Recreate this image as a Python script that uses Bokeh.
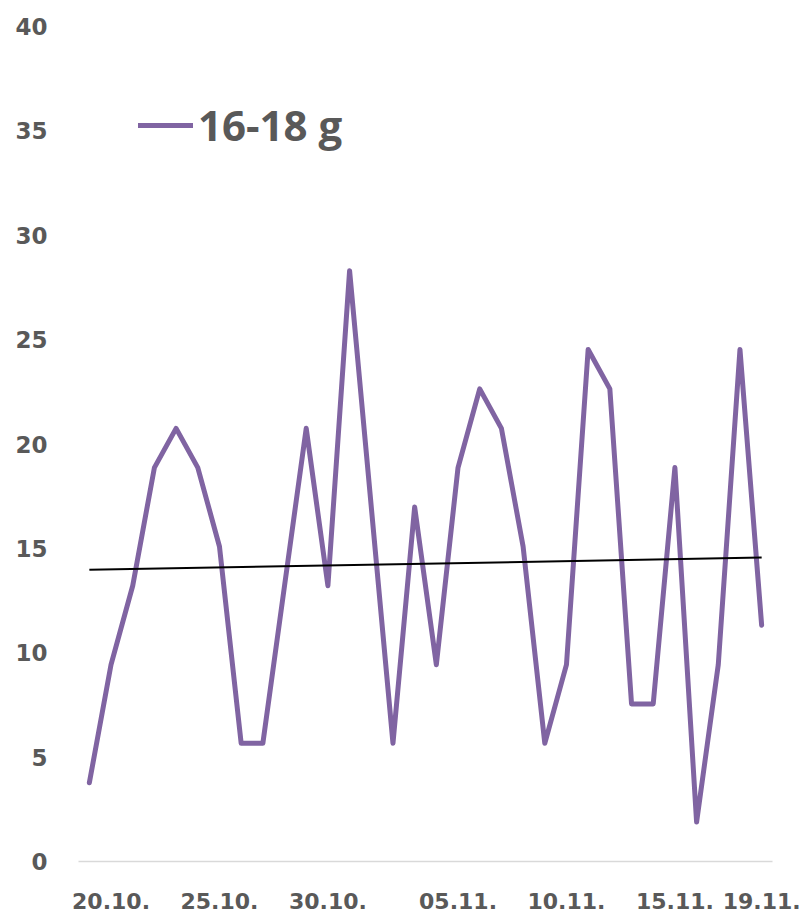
import numpy as np
from bokeh.plotting import figure
from bokeh.models import FixedTicker, Legend, LegendItem, Range1d, ColumnDataSource
from bokeh.embed import file_html
from bokeh.resources import INLINE

# --- data ---
dates = ["19.10.", "20.10.", "21.10.", "22.10.", "23.10.", "24.10.", "25.10.", "26.10.",
         "27.10.", "28.10.", "29.10.", "30.10.", "31.10.", "01.11.", "02.11.", "03.11.",
         "04.11.", "05.11.", "06.11.", "07.11.", "08.11.", "09.11.", "10.11.", "11.11.",
         "12.11.", "13.11.", "14.11.", "15.11.", "16.11.", "17.11.", "18.11.", "19.11."]
values = [3.77, 9.43, 13.21, 18.87, 20.75, 18.87, 15.09, 5.66,
          5.66, 13.21, 20.75, 13.21, 28.30, 16.98, 5.66, 16.98,
          9.43, 18.87, 22.64, 20.75, 15.09, 5.66, 9.43, 24.53,
          22.64, 7.55, 7.55, 18.87, 1.89, 9.43, 24.53, 11.32]
tick_labels = ["20.10.", "25.10.", "30.10.", "05.11.", "10.11.", "15.11.", "19.11."]
y_ticks = [0, 5, 10, 15, 20, 25, 30, 35, 40]
series_name = "16-18 g"

idx = list(range(len(dates)))
src = ColumnDataSource(dict(x=idx, y=values, d=dates))

p = figure(width=806, height=917, output_backend="svg", toolbar_location=None,
           x_range=Range1d(-0.5, len(dates) - 0.5), y_range=Range1d(0, 40),
           min_border_left=78, min_border_right=34, min_border_top=26, min_border_bottom=56)
p.outline_line_color = None
p.grid.visible = False

purple = "#8064A2"
grey = "#595959"

r = p.line("x", "y", source=src, line_color=purple, line_width=5, line_join="round", line_cap="round")

# linear trend line
coef = np.polyfit(idx, values, 1)
tx = [idx[0], idx[-1]]
ty = [coef[1] + coef[0] * t for t in tx]
p.line(tx, ty, line_color="black", line_width=2)

# x axis
tick_pos = [dates.index(t) for t in tick_labels]
p.xaxis.ticker = FixedTicker(ticks=tick_pos)
p.xaxis.major_label_overrides = {i: dates[i] for i in tick_pos}
p.xaxis.axis_line_color = "#D9D9D9"
p.xaxis.axis_line_width = 1.5
p.xaxis.major_tick_line_color = None
p.xaxis.minor_tick_line_color = None
p.xaxis.major_label_text_font = "DejaVu Sans"
p.xaxis.major_label_text_font_style = "bold"
p.xaxis.major_label_text_font_size = "22px"
p.xaxis.major_label_text_color = grey
p.xaxis.major_label_standoff = 25

# y axis
p.yaxis.ticker = FixedTicker(ticks=y_ticks)
p.yaxis.axis_line_color = None
p.yaxis.major_tick_line_color = None
p.yaxis.minor_tick_line_color = None
p.yaxis.major_label_text_font = "DejaVu Sans"
p.yaxis.major_label_text_font_style = "bold"
p.yaxis.major_label_text_font_size = "23px"
p.yaxis.major_label_text_color = grey
p.yaxis.major_label_standoff = 25

legend = Legend(items=[LegendItem(label=series_name, renderers=[r])],
                location=(60, 708), glyph_width=55, glyph_height=40,
                label_text_font="Open Sans", label_text_font_style="bold",
                label_text_font_size="42px", label_text_color=grey,
                label_standoff=5, padding=0, margin=0,
                border_line_color=None, background_fill_alpha=0)
p.add_layout(legend, "center")

open("out.html", "w").write(file_html(p, INLINE))
